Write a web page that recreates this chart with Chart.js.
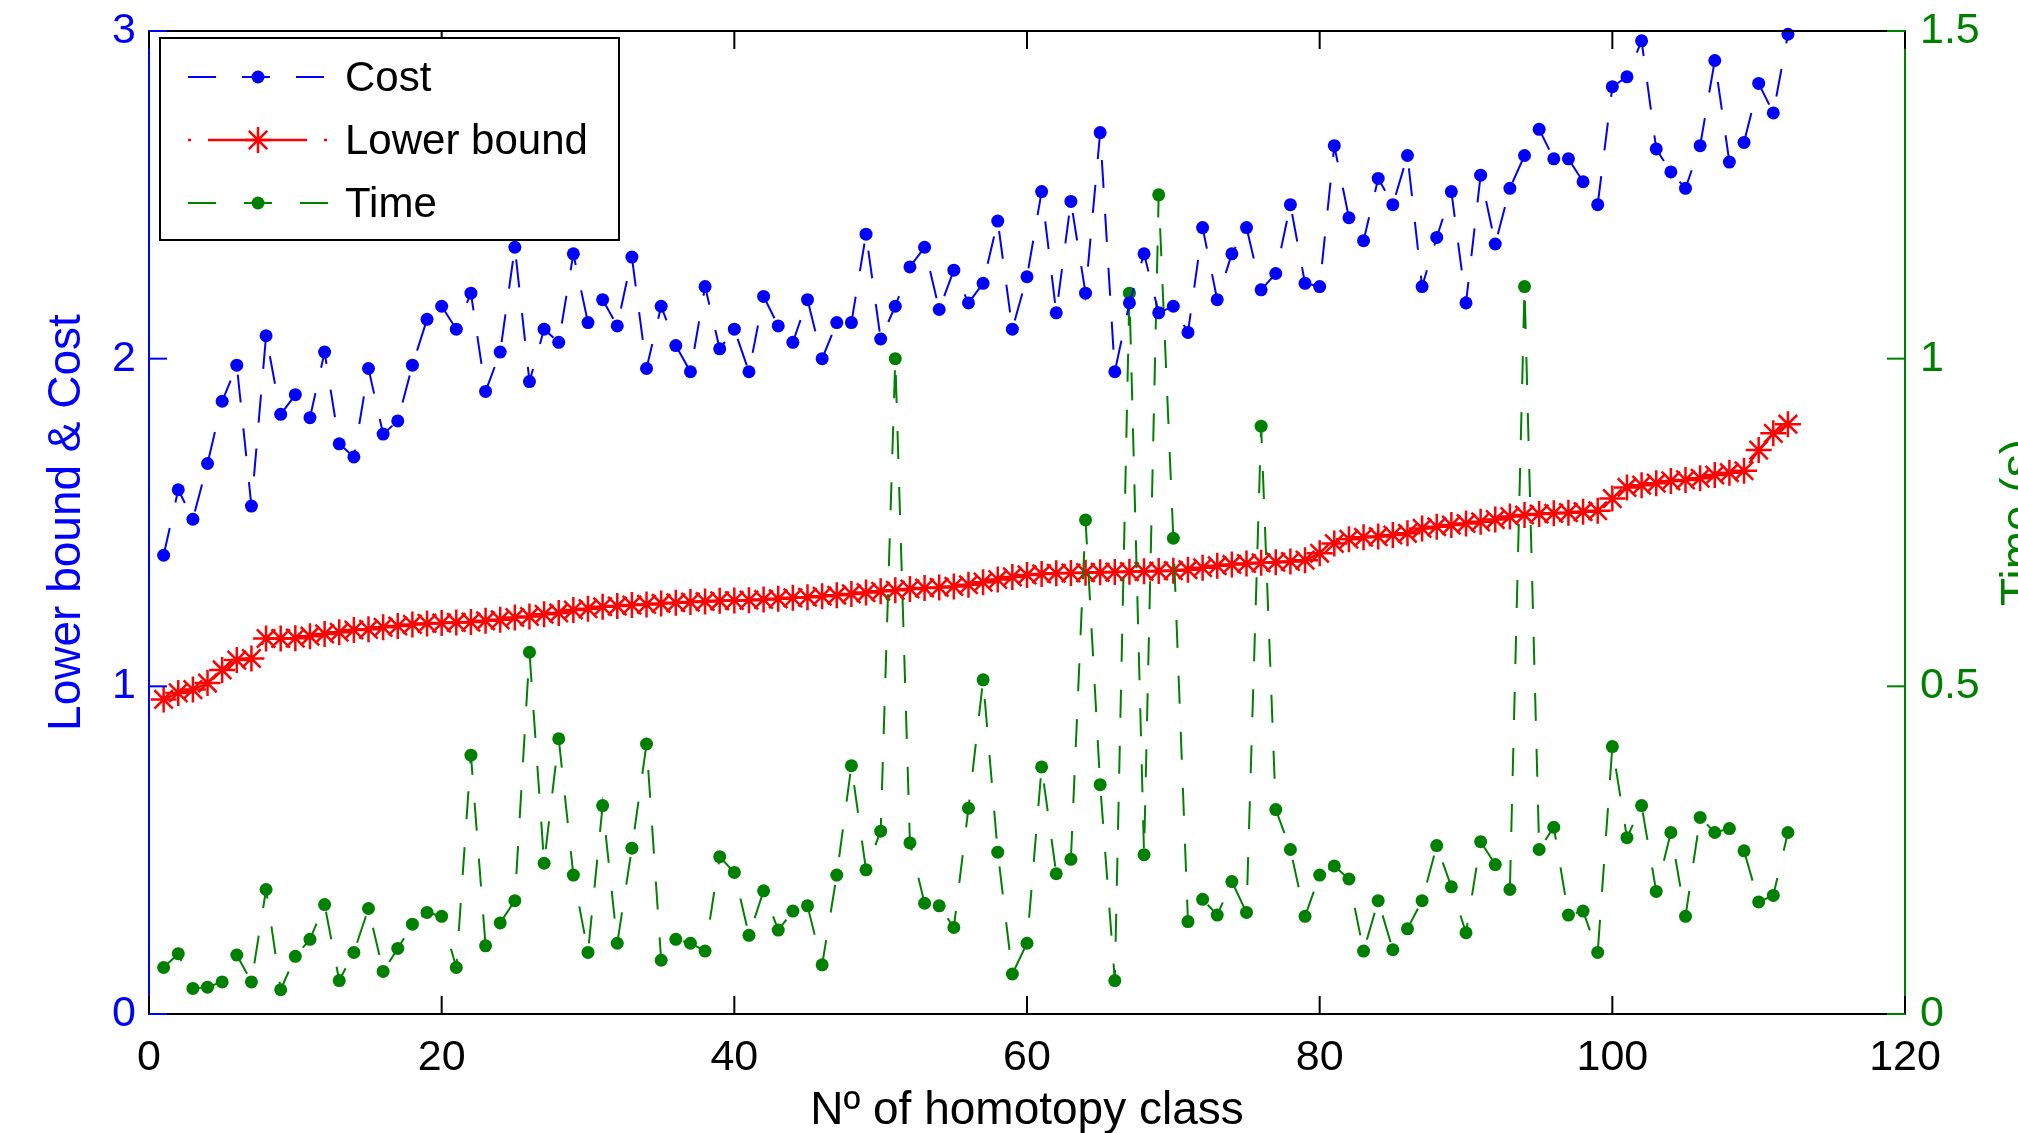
<!DOCTYPE html>
<html>
<head>
<meta charset="utf-8">
<title>Lower bound, cost and time per homotopy class</title>
<script src="https://cdn.jsdelivr.net/npm/chart.js"></script>
<style>
  html, body { margin: 0; padding: 0; background: #fff; overflow: hidden; }
  canvas { display: block; }
</style>
</head>
<body>
<canvas id="chart" width="2018" height="1133"></canvas>
<script>
// homotopy class numbers 1..112
const classes = Array.from({ length: 112 }, (_, i) => i + 1);

const cost = [1.40, 1.60, 1.51, 1.68, 1.87, 1.98, 1.55, 2.07, 1.83, 1.89,
  1.82, 2.02, 1.74, 1.70, 1.97, 1.77, 1.81, 1.98, 2.12, 2.16,
  2.09, 2.20, 1.90, 2.02, 2.34, 1.93, 2.09, 2.05, 2.32, 2.11,
  2.18, 2.10, 2.31, 1.97, 2.16, 2.04, 1.96, 2.22, 2.03, 2.09,
  1.96, 2.19, 2.10, 2.05, 2.18, 2.00, 2.11, 2.11, 2.38, 2.06,
  2.16, 2.28, 2.34, 2.15, 2.27, 2.17, 2.23, 2.42, 2.09, 2.25,
  2.51, 2.14, 2.48, 2.20, 2.69, 1.96, 2.17, 2.32, 2.14, 2.16,
  2.08, 2.40, 2.18, 2.32, 2.40, 2.21, 2.26, 2.47, 2.23, 2.22,
  2.65, 2.43, 2.36, 2.55, 2.47, 2.62, 2.22, 2.37, 2.51, 2.17,
  2.56, 2.35, 2.52, 2.62, 2.70, 2.61, 2.61, 2.54, 2.47, 2.83,
  2.86, 2.97, 2.64, 2.57, 2.52, 2.65, 2.91, 2.60, 2.66, 2.84,
  2.75, 2.99];

const lowerBound = [0.96, 0.98, 0.99, 1.01, 1.05, 1.08, 1.085, 1.146, 1.146, 1.147,
  1.153, 1.16, 1.165, 1.172, 1.174, 1.18, 1.184, 1.189, 1.192, 1.193,
  1.195, 1.196, 1.20, 1.203, 1.21, 1.213, 1.22, 1.224, 1.233, 1.237,
  1.243, 1.245, 1.248, 1.25, 1.253, 1.255, 1.257, 1.259, 1.261, 1.262,
  1.263, 1.265, 1.267, 1.27, 1.272, 1.275, 1.278, 1.282, 1.286, 1.29,
  1.293, 1.297, 1.30, 1.302, 1.305, 1.31, 1.318, 1.326, 1.334, 1.34,
  1.343, 1.345, 1.346, 1.347, 1.348, 1.349, 1.35, 1.351, 1.352, 1.353,
  1.356, 1.362, 1.368, 1.372, 1.375, 1.377, 1.379, 1.381, 1.385, 1.406,
  1.436, 1.449, 1.455, 1.457, 1.462, 1.467, 1.482, 1.487, 1.492, 1.497,
  1.502, 1.509, 1.518, 1.523, 1.526, 1.528, 1.53, 1.533, 1.536, 1.573,
  1.607, 1.614, 1.62, 1.627, 1.63, 1.635, 1.645, 1.652, 1.658, 1.721,
  1.772, 1.80];

const time = [0.071, 0.092, 0.039, 0.041, 0.049, 0.090, 0.049, 0.19, 0.037, 0.088,
  0.114, 0.167, 0.051, 0.094, 0.161, 0.065, 0.10, 0.137, 0.155, 0.149,
  0.071, 0.395, 0.104, 0.139, 0.173, 0.552, 0.23, 0.42, 0.212, 0.094,
  0.318, 0.108, 0.253, 0.412, 0.082, 0.114, 0.108, 0.096, 0.24, 0.216,
  0.12, 0.188, 0.128, 0.157, 0.165, 0.075, 0.212, 0.379, 0.22, 0.279,
  1.0, 0.261, 0.169, 0.165, 0.132, 0.314, 0.51, 0.247, 0.061, 0.108,
  0.377, 0.214, 0.236, 0.754, 0.35, 0.051, 1.10, 0.243, 1.25, 0.726,
  0.141, 0.175, 0.151, 0.202, 0.155, 0.897, 0.312, 0.251, 0.149, 0.212,
  0.226, 0.206, 0.096, 0.173, 0.098, 0.13, 0.173, 0.257, 0.194, 0.124,
  0.263, 0.228, 0.19, 1.11, 0.251, 0.285, 0.151, 0.157, 0.094, 0.408,
  0.269, 0.318, 0.187, 0.277, 0.149, 0.30, 0.277, 0.283, 0.249, 0.171,
  0.181, 0.277];

const xTicks = [0, 20, 40, 60, 80, 100, 120];
const leftTicks = [0, 1, 2, 3];
const rightTicks = [0, 0.5, 1, 1.5];

const BLUE = "#0000ff";
const RED = "#ff0000";
const GREEN = "#008000";
const FONT = "'Liberation Sans', Arial, Helvetica, sans-serif";

const toPoints = (values) => classes.map((c, i) => ({ x: c, y: values[i] }));

// MATLAB-like frame: top line, inward ticks, axis labels and the boxed legend
const matlabFrame = {
  id: "matlabFrame",
  afterDatasetsDraw(chart) {
    const { ctx, chartArea: area, scales } = chart;
    const tick = 18;
    ctx.save();

    ctx.lineWidth = 2;
    ctx.strokeStyle = "#000";
    ctx.beginPath();
    ctx.moveTo(area.left, area.top);
    ctx.lineTo(area.right, area.top);
    ctx.stroke();

    xTicks.forEach((v) => {
      const px = scales.x.getPixelForValue(v);
      ctx.beginPath();
      ctx.moveTo(px, area.bottom);
      ctx.lineTo(px, area.bottom - tick);
      ctx.moveTo(px, area.top);
      ctx.lineTo(px, area.top + tick);
      ctx.stroke();
    });

    ctx.strokeStyle = BLUE;
    leftTicks.forEach((v) => {
      const py = scales.y.getPixelForValue(v);
      ctx.beginPath();
      ctx.moveTo(area.left, py);
      ctx.lineTo(area.left + tick, py);
      ctx.stroke();
    });

    ctx.strokeStyle = GREEN;
    rightTicks.forEach((v) => {
      const py = scales.y1.getPixelForValue(v);
      ctx.beginPath();
      ctx.moveTo(area.right, py);
      ctx.lineTo(area.right - tick, py);
      ctx.stroke();
    });

    // axis titles
    const midY = (area.top + area.bottom) / 2;
    ctx.font = `46px ${FONT}`;
    ctx.textAlign = "center";
    ctx.textBaseline = "alphabetic";

    ctx.fillStyle = "#000";
    ctx.fillText("N\u00ba of homotopy class", (area.left + area.right) / 2, 1124);

    ctx.save();
    ctx.translate(80, midY);
    ctx.rotate(-Math.PI / 2);
    ctx.fillStyle = BLUE;
    ctx.fillText("Lower bound & Cost", 0, 0);
    ctx.restore();

    ctx.save();
    ctx.translate(2033, midY);
    ctx.rotate(-Math.PI / 2);
    ctx.fillStyle = GREEN;
    ctx.fillText("Time (s)", 0, 0);
    ctx.restore();

    // legend box
    const box = { left: 160, top: 38, right: 619, bottom: 240 };
    ctx.fillStyle = "#fff";
    ctx.fillRect(box.left, box.top, box.right - box.left, box.bottom - box.top);
    ctx.strokeStyle = "#000";
    ctx.lineWidth = 2;
    ctx.strokeRect(box.left, box.top, box.right - box.left, box.bottom - box.top);

    const rows = [77, 140, 203];
    ctx.font = `42px ${FONT}`;
    ctx.textAlign = "left";
    ctx.textBaseline = "middle";
    chart.data.datasets.forEach((ds, r) => {
      const y = rows[r];
      ctx.save();
      ctx.strokeStyle = ds.borderColor;
      ctx.lineWidth = ds.borderWidth;
      ctx.setLineDash(ds.borderDash);
      ctx.lineDashOffset = ds.legendDashOffset || 0;
      ctx.beginPath();
      ctx.moveTo(188, y);
      ctx.lineTo(328, y);
      ctx.stroke();
      ctx.setLineDash([]);
      ctx.fillStyle = ds.pointBackgroundColor;
      ctx.strokeStyle = ds.pointBorderColor;
      Chart.helpers.drawPoint(ctx, {
        pointStyle: ds.pointStyle,
        radius: ds.pointRadius,
        rotation: 0,
        borderWidth: ds.pointBorderWidth
      }, 258, y);
      ctx.restore();
      ctx.fillStyle = "#000";
      ctx.fillText(ds.label, 345, y + 2);
    });

    ctx.restore();
  }
};

const noVerticalPadding = (width) => (scale) => {
  scale.width = width;
  scale.paddingTop = 0;
  scale.paddingBottom = 0;
};

const ctx = document.getElementById("chart").getContext("2d");

new Chart(ctx, {
  type: "line",
  data: {
    datasets: [
      {
        label: "Cost",
        data: toPoints(cost),
        yAxisID: "y",
        borderColor: BLUE,
        borderWidth: 2,
        borderDash: [28, 26],
        pointStyle: "circle",
        pointRadius: 6.5,
        pointBackgroundColor: BLUE,
        pointBorderColor: BLUE,
        pointBorderWidth: 0,
        order: 1
      },
      {
        label: "Lower bound",
        data: toPoints(lowerBound),
        yAxisID: "y",
        borderColor: RED,
        borderWidth: 2.5,
        borderDash: [99, 17, 3, 17],
        legendDashOffset: 116,
        pointStyle: "star",
        pointRadius: 13,
        pointBackgroundColor: RED,
        pointBorderColor: RED,
        pointBorderWidth: 2.5,
        order: 3
      },
      {
        label: "Time",
        data: toPoints(time),
        yAxisID: "y1",
        borderColor: GREEN,
        borderWidth: 2,
        borderDash: [28, 28],
        pointStyle: "circle",
        pointRadius: 6.5,
        pointBackgroundColor: GREEN,
        pointBorderColor: GREEN,
        pointBorderWidth: 0,
        order: 2
      }
    ]
  },
  options: {
    responsive: false,
    animation: false,
    devicePixelRatio: 1,
    layout: { padding: { top: 31, left: 0, right: 0, bottom: 0 } },
    elements: { line: { tension: 0 } },
    datasets: { line: { clip: false } },
    plugins: {
      legend: { display: false },
      tooltip: { enabled: false }
    },
    scales: {
      x: {
        type: "linear",
        min: 0,
        max: 120,
        afterBuildTicks: (scale) => { scale.ticks = xTicks.map((v) => ({ value: v })); },
        afterFit: (scale) => { scale.height = 119; },
        grid: { display: false, drawTicks: false },
        border: { display: true, color: "#000", width: 2 },
        ticks: {
          color: "#000",
          padding: 18,
          maxRotation: 0,
          font: { family: FONT, size: 43 }
        }
      },
      y: {
        position: "left",
        min: 0,
        max: 3,
        afterBuildTicks: (scale) => { scale.ticks = leftTicks.map((v) => ({ value: v })); },
        afterFit: noVerticalPadding(149),
        grid: { display: false, drawTicks: false },
        border: { display: true, color: BLUE, width: 2 },
        ticks: {
          color: BLUE,
          padding: 13,
          font: { family: FONT, size: 43 }
        }
      },
      y1: {
        position: "right",
        min: 0,
        max: 1.5,
        afterBuildTicks: (scale) => { scale.ticks = rightTicks.map((v) => ({ value: v })); },
        afterFit: noVerticalPadding(113),
        grid: { display: false, drawTicks: false },
        border: { display: true, color: GREEN, width: 2 },
        ticks: {
          color: GREEN,
          padding: 15,
          callback: (v) => String(v),
          font: { family: FONT, size: 43 }
        }
      }
    }
  },
  plugins: [matlabFrame]
});
</script>
</body>
</html>
